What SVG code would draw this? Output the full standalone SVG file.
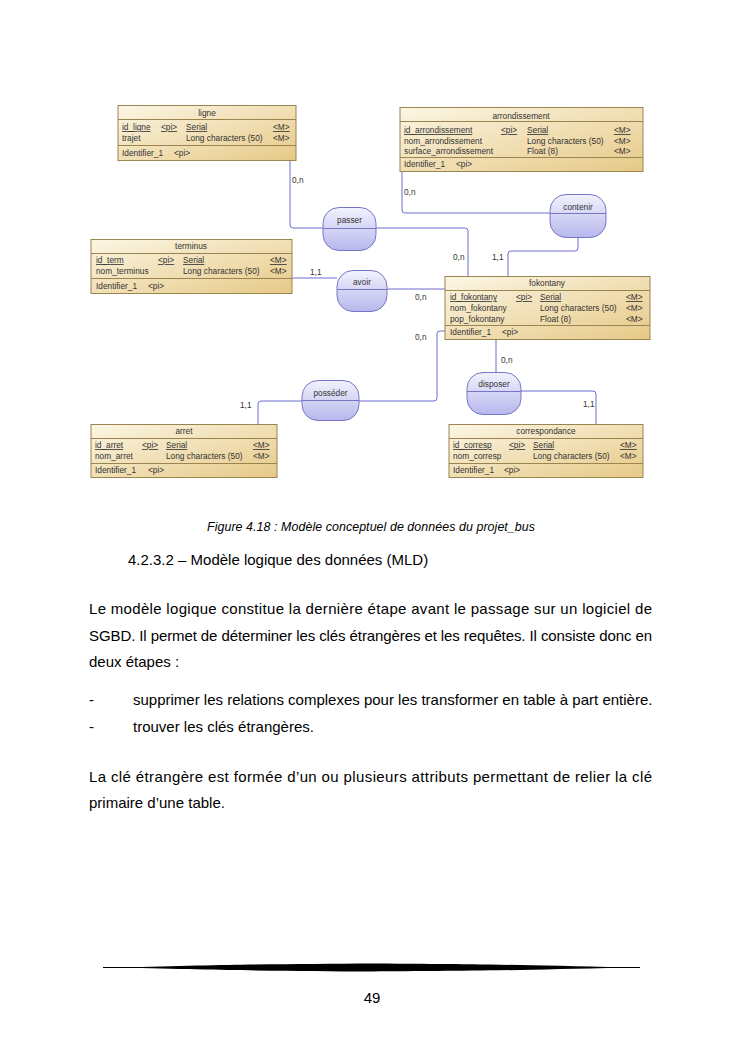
<svg xmlns="http://www.w3.org/2000/svg" width="745" height="1053" viewBox="0 0 745 1053">
<defs>
<linearGradient id="ent" x1="0" y1="0" x2="1" y2="1">
<stop offset="0" stop-color="#fcf6e4"/>
<stop offset="1" stop-color="#e6c987"/>
</linearGradient>
<linearGradient id="asc" x1="0" y1="0" x2="0" y2="1">
<stop offset="0" stop-color="#f2f2fe"/>
<stop offset="1" stop-color="#b7b7ec"/>
</linearGradient>
<style>
.eb{fill:url(#ent);stroke:#9a8450;stroke-width:1}
.sep{stroke:#9a8450;stroke-width:1}
.ab{fill:url(#asc);stroke:#7676c6;stroke-width:1}
.asep{stroke:#7676c6;stroke-width:1}
.t{font-family:"Liberation Sans",Arial,sans-serif;font-size:8.3px;fill:#333}
.tc{font-family:"Liberation Sans",Arial,sans-serif;font-size:8.3px;fill:#333;text-anchor:middle}
.u{text-decoration:underline}
.c{fill:none;stroke:#6c6cd0;stroke-width:1}
.lb{font-family:"Liberation Sans",Arial,sans-serif;font-size:8.3px;fill:#333}
.p{font-family:"Liberation Sans",Arial,sans-serif;font-size:15px;fill:#000}
</style>
</defs>
<rect width="745" height="1053" fill="#fff"/>

<g id="connectors">
<path class="c" d="M290,160 V225 Q290,228 293,228 H323"/>
<path class="c" d="M376,228 H465 Q468,228 468,231 V276"/>
<path class="c" d="M402,172 V210 Q402,213 405,213 H550"/>
<path class="c" d="M578,238 V248 Q578,251 575,251 H511 Q508,251 508,254 V276"/>
<path class="c" d="M292,278 H337"/>
<path class="c" d="M387,289 H445"/>
<path class="c" d="M445,331 H440 Q437,331 437,334 V398 Q437,401 434,401 H359"/>
<path class="c" d="M302,401 H261 Q258,401 258,404 V424"/>
<path class="c" d="M496,340 V372"/>
<path class="c" d="M521,391 H593 Q596,391 596,394 V424"/>
<text class="lb" x="292" y="183">0,n</text>
<text class="lb" x="453" y="260">0,n</text>
<text class="lb" x="404" y="195">0,n</text>
<text class="lb" x="492" y="260">1,1</text>
<text class="lb" x="310" y="275">1,1</text>
<text class="lb" x="415" y="300">0,n</text>
<text class="lb" x="415" y="340">0,n</text>
<text class="lb" x="240" y="408">1,1</text>
<text class="lb" x="501" y="363">0,n</text>
<text class="lb" x="583" y="407">1,1</text>
</g>

<g id="ligne">
<rect class="eb" x="118" y="105.5" width="178" height="55"/>
<line class="sep" x1="118" y1="119.5" x2="296" y2="119.5"/>
<line class="sep" x1="118" y1="145.5" x2="296" y2="145.5"/>
<text class="tc" x="207" y="116">ligne</text>
<text class="t u" x="122" y="130">id_ligne</text>
<text class="t u" x="161" y="130">&lt;pi&gt;</text>
<text class="t u" x="186" y="130">Serial</text>
<text class="t u" x="273" y="130">&lt;M&gt;</text>
<text class="t" x="122" y="141">trajet</text>
<text class="t" x="186" y="141">Long characters (50)</text>
<text class="t" x="273" y="141">&lt;M&gt;</text>
<text class="t" x="122" y="156">Identifier_1</text>
<text class="t" x="174" y="156">&lt;pi&gt;</text>
</g>

<g id="arrondissement">
<rect class="eb" x="400" y="107.5" width="243" height="64"/>
<line class="sep" x1="400" y1="121.5" x2="643" y2="121.5"/>
<line class="sep" x1="400" y1="157.5" x2="643" y2="157.5"/>
<text class="tc" x="521" y="119">arrondissement</text>
<text class="t u" x="404" y="133">id_arrondissement</text>
<text class="t u" x="501" y="133">&lt;pi&gt;</text>
<text class="t u" x="527" y="133">Serial</text>
<text class="t u" x="614" y="133">&lt;M&gt;</text>
<text class="t" x="404" y="144">nom_arrondissement</text>
<text class="t" x="527" y="144">Long characters (50)</text>
<text class="t" x="614" y="144">&lt;M&gt;</text>
<text class="t" x="404" y="154">surface_arrondissement</text>
<text class="t" x="527" y="154">Float (8)</text>
<text class="t" x="614" y="154">&lt;M&gt;</text>
<text class="t" x="404" y="167">Identifier_1</text>
<text class="t" x="456" y="167">&lt;pi&gt;</text>
</g>

<g id="terminus">
<rect class="eb" x="91" y="239.5" width="201" height="54"/>
<line class="sep" x1="91" y1="253.5" x2="292" y2="253.5"/>
<line class="sep" x1="91" y1="278.5" x2="292" y2="278.5"/>
<text class="tc" x="191" y="249">terminus</text>
<text class="t u" x="96" y="263">id_term</text>
<text class="t u" x="158" y="263">&lt;pi&gt;</text>
<text class="t u" x="183" y="263">Serial</text>
<text class="t u" x="270" y="263">&lt;M&gt;</text>
<text class="t" x="96" y="274">nom_terminus</text>
<text class="t" x="183" y="274">Long characters (50)</text>
<text class="t" x="270" y="274">&lt;M&gt;</text>
<text class="t" x="96" y="289">Identifier_1</text>
<text class="t" x="148" y="289">&lt;pi&gt;</text>
</g>

<g id="fokontany">
<rect class="eb" x="445" y="276.5" width="205" height="63"/>
<line class="sep" x1="445" y1="290.5" x2="650" y2="290.5"/>
<line class="sep" x1="445" y1="325.5" x2="650" y2="325.5"/>
<text class="tc" x="547" y="286">fokontany</text>
<text class="t u" x="450" y="300">id_fokontany</text>
<text class="t u" x="516" y="300">&lt;pi&gt;</text>
<text class="t u" x="540" y="300">Serial</text>
<text class="t u" x="626" y="300">&lt;M&gt;</text>
<text class="t" x="450" y="311">nom_fokontany</text>
<text class="t" x="540" y="311">Long characters (50)</text>
<text class="t" x="626" y="311">&lt;M&gt;</text>
<text class="t" x="450" y="322">pop_fokontany</text>
<text class="t" x="540" y="322">Float (8)</text>
<text class="t" x="626" y="322">&lt;M&gt;</text>
<text class="t" x="450" y="335">Identifier_1</text>
<text class="t" x="502" y="335">&lt;pi&gt;</text>
</g>

<g id="arret">
<rect class="eb" x="91" y="424.5" width="186" height="53"/>
<line class="sep" x1="91" y1="438.5" x2="277" y2="438.5"/>
<line class="sep" x1="91" y1="463.5" x2="277" y2="463.5"/>
<text class="tc" x="184" y="434">arret</text>
<text class="t u" x="95" y="448">id_arret</text>
<text class="t u" x="142" y="448">&lt;pi&gt;</text>
<text class="t u" x="166" y="448">Serial</text>
<text class="t u" x="253" y="448">&lt;M&gt;</text>
<text class="t" x="95" y="459">nom_arret</text>
<text class="t" x="166" y="459">Long characters (50)</text>
<text class="t" x="253" y="459">&lt;M&gt;</text>
<text class="t" x="95" y="473">Identifier_1</text>
<text class="t" x="148" y="473">&lt;pi&gt;</text>
</g>

<g id="correspondance">
<rect class="eb" x="449" y="424.5" width="194" height="53"/>
<line class="sep" x1="449" y1="438.5" x2="643" y2="438.5"/>
<line class="sep" x1="449" y1="463.5" x2="643" y2="463.5"/>
<text class="tc" x="546" y="434">correspondance</text>
<text class="t u" x="453" y="448">id_corresp</text>
<text class="t u" x="509" y="448">&lt;pi&gt;</text>
<text class="t u" x="533" y="448">Serial</text>
<text class="t u" x="620" y="448">&lt;M&gt;</text>
<text class="t" x="453" y="459">nom_corresp</text>
<text class="t" x="533" y="459">Long characters (50)</text>
<text class="t" x="620" y="459">&lt;M&gt;</text>
<text class="t" x="453" y="473">Identifier_1</text>
<text class="t" x="504" y="473">&lt;pi&gt;</text>
</g>

<g id="passer">
<rect class="ab" x="323" y="207.5" width="53" height="43" rx="16"/>
<line class="asep" x1="323" y1="228.5" x2="376" y2="228.5"/>
<text class="tc" x="349.5" y="223">passer</text>
</g>
<g id="contenir">
<rect class="ab" x="550" y="194.5" width="56" height="43" rx="16"/>
<line class="asep" x1="550" y1="213.5" x2="606" y2="213.5"/>
<text class="tc" x="578" y="210">contenir</text>
</g>
<g id="avoir">
<rect class="ab" x="337" y="270.5" width="50" height="41" rx="16"/>
<line class="asep" x1="337" y1="289.5" x2="387" y2="289.5"/>
<text class="tc" x="362" y="285">avoir</text>
</g>
<g id="posseder">
<rect class="ab" x="302" y="380.5" width="57" height="40" rx="16"/>
<line class="asep" x1="302" y1="400.5" x2="359" y2="400.5"/>
<text class="tc" x="330.5" y="396">posséder</text>
</g>
<g id="disposer">
<rect class="ab" x="467" y="372.5" width="54" height="42" rx="16"/>
<line class="asep" x1="467" y1="391.5" x2="521" y2="391.5"/>
<text class="tc" x="494" y="387">disposer</text>
</g>

<g id="text">
<text font-family="Liberation Sans, Arial, sans-serif" font-size="12.4" font-style="italic" x="207" y="531" textLength="328" lengthAdjust="spacing">Figure 4.18 : Modèle conceptuel de données du projet_bus</text>
<text class="p" x="128" y="565">4.2.3.2 – Modèle logique des données (MLD)</text>
<text class="p" x="89" y="614" textLength="563" lengthAdjust="spacing">Le modèle logique constitue la dernière étape avant le passage sur un logiciel de</text>
<text class="p" x="89" y="641" textLength="563" lengthAdjust="spacing">SGBD. Il permet de déterminer les clés étrangères et les requêtes. Il consiste donc en</text>
<text class="p" x="89" y="667">deux étapes :</text>
<text class="p" x="89" y="705">-</text>
<text class="p" x="133" y="705">supprimer les relations complexes pour les transformer en table à part entière.</text>
<text class="p" x="89" y="732">-</text>
<text class="p" x="133" y="732">trouver les clés étrangères.</text>
<text class="p" x="89" y="782" textLength="563" lengthAdjust="spacing">La clé étrangère est formée d’un ou plusieurs attributs permettant de relier la clé</text>
<text class="p" x="89" y="808">primaire d’une table.</text>
</g>

<g id="footer">
<line x1="103" y1="967.5" x2="640" y2="967.5" stroke="#000" stroke-width="1"/>
<path d="M120,967.5 C250,964 300,964 372,963.5 C444,964 494,964 625,967.5 C494,971 444,971 372,971.5 C300,971 250,971 120,967.5 Z" fill="#000"/>
<text font-family="Liberation Sans, Arial, sans-serif" font-size="15" x="372" y="1003" text-anchor="middle">49</text>
</g>
</svg>
